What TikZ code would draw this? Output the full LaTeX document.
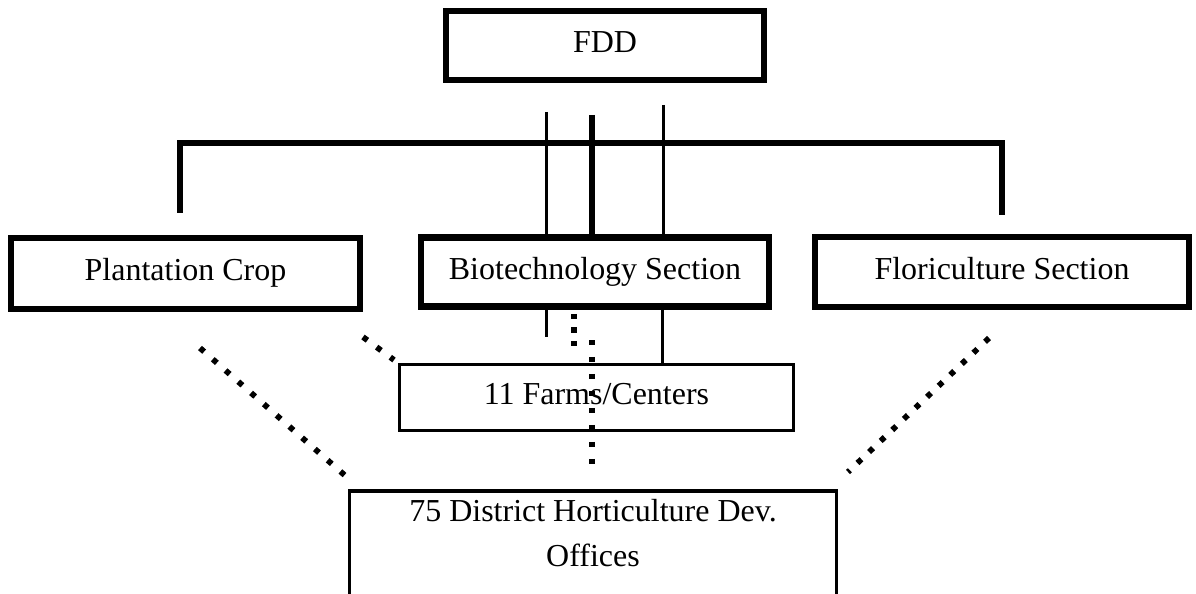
\documentclass[tikz,border=0pt]{standalone}
\usepackage{fontspec}
\setmainfont{Liberation Serif}

\tikzset{
	box/.style = {draw, line width = 0.13cm, inner sep = 0pt, font = \fontsize{18.2}{25.5}\selectfont},
	label/.style = {text height = 12.5pt, text depth = 4pt},
	thinbox/.style = {box, line width = 0.06cm},
	bar/.style = {line width = 0.12cm},
	rule/.style = {line width = 0.06cm},
	dots/.style = {line width = 0.115cm, dash pattern = on 0.11cm off 0.23cm}
}

\begin{document}
\begin{tikzpicture}[x = 0.02cm, y = -0.02cm]

	\clip (0, 0) rectangle (1196, 594);
	\fill [white] (0, 0) rectangle (1196, 594);

	% Boxes
	
	\node [box, label, minimum width = 6.36cm, minimum height = 1.38cm] (fdd) at (605, 45.5) {FDD};
	\node [box, label, minimum width = 6.98cm, minimum height = 1.42cm] (plant) at (185.5, 273.5) {Plantation Crop};
	\node [box, label, minimum width = 6.96cm, minimum height = 1.38cm] (biotech) at (595, 272) {Biotechnology Section};
	\node [box, label, minimum width = 7.48cm, minimum height = 1.40cm] (flori) at (1002, 272) {Floriculture Section};
	\node [thinbox, label, minimum width = 7.88cm, minimum height = 1.32cm] (farms) at (596.5, 397.5) {11 Farms/Centers};
	\node [thinbox, line width = 0.07cm, minimum width = 9.74cm, inner ysep = 0.17cm, text depth = 1.6cm,
		align = center, anchor = north] (district) at (593, 489) {75 District Horticulture Dev.\\Offices};

	% Bar to the side sections
	
	\draw [bar] ([xshift = -0.11cm, yshift = 0.44cm] plant.north) -- ++(0, -70) -| ([yshift = 0.38cm] flori.north);

	% Lines into Biotechnology Section
	
	\coordinate (upA) at (546, 112);
	\coordinate (upB) at (592, 115);
	\coordinate (upC) at (663, 105);
	
	\draw [rule] (upA) -- (biotech.north -| upA);
	\draw [bar] (upB) -- (biotech.north -| upB);
	\draw [rule] (upC) -- (biotech.north -| upC);

	% Lines below Biotechnology Section
	
	\coordinate (downA) at (546, 337);
	\coordinate (downB) at (662, 340);
	\coordinate (dotA) at (574, 314);
	\coordinate (dotB) at (574, 348);
	
	\draw [rule] (biotech.south -| downA) -- (downA);
	\draw [rule] (biotech.south -| downB) -- (farms.north -| downB);
	\draw [dots, dash pattern = on 0.11cm off 0.16cm] (dotA) -- (dotB);

	% Dotted links
	
	\coordinate (midTop) at (592, 340);
	\coordinate (midEnd) at (592, 474);
	\coordinate (plantLow) at (200, 348);
	\coordinate (plantEnd) at (349, 479);
	\coordinate (farmsTop) at (363, 337);
	\coordinate (farmsEnd) at (394, 360);
	\coordinate (floriLow) at (989, 338);
	\coordinate (floriEnd) at (848, 472);
	
	\draw [dots] (midTop) -- (midEnd);
	\draw [dots] (plantLow) -- (plantEnd);
	\draw [dots] (farmsTop) -- (farmsEnd);
	\draw [dots, dash pattern = on 0.11cm off 0.21cm] (floriLow) -- (floriEnd);

\end{tikzpicture}
\end{document}
